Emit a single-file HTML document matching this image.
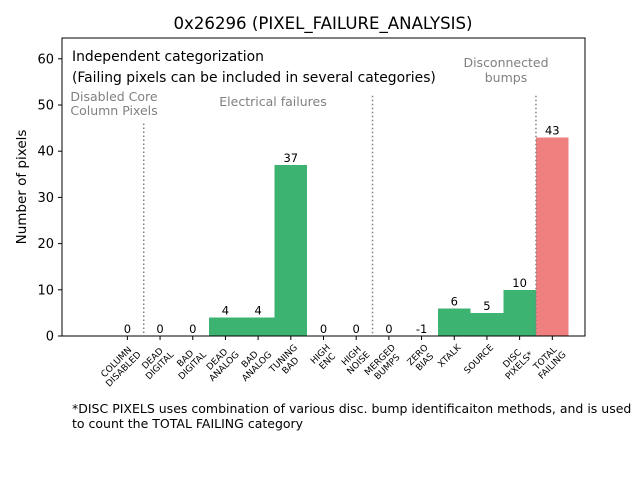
<!DOCTYPE html>
<html><head><meta charset="utf-8"><style>
body{margin:0;background:#fff;}
svg text{font-family:"DejaVu Sans","Liberation Sans",sans-serif;}
</style></head><body>
<svg id="chart" width="640" height="480" xmlns="http://www.w3.org/2000/svg">
<rect width="640" height="480" fill="#fff"/>
<text x="323" y="29" font-size="16.6" text-anchor="middle">0x26296 (PIXEL_FAILURE_ANALYSIS)</text>
<defs><clipPath id="plotclip"><rect x="62" y="38" width="523" height="298"/></clipPath></defs>
<g id="bars" clip-path="url(#plotclip)" shape-rendering="crispEdges"></g>
<g id="marks"></g>
<rect x="62" y="38" width="523" height="298" fill="none" stroke="#000" stroke-width="1"/>
<text transform="translate(26,187) rotate(-90)" font-size="13.5" text-anchor="middle">Number of pixels</text>
<text x="72" y="61" font-size="13.9">Independent categorization</text>
<text x="72" y="82" font-size="13.9">(Failing pixels can be included in several categories)</text>
<text font-size="12.5" fill="#808080" text-anchor="middle"><tspan x="114" y="101">Disabled Core</tspan><tspan x="114" y="115">Column Pixels</tspan></text>
<text x="273" y="106" font-size="12.5" fill="#808080" text-anchor="middle">Electrical failures</text>
<text font-size="12.5" fill="#808080" text-anchor="middle"><tspan x="506" y="67">Disconnected</tspan><tspan x="506" y="82">bumps</tspan></text>
<text font-size="12.5"><tspan x="72" y="413">*DISC PIXELS uses combination of various disc. bump identificaiton methods, and is used</tspan><tspan x="72" y="428">to count the TOTAL FAILING category</tspan></text>
</svg>
<script>
const categories=[["COLUMN","DISABLED"],["DEAD","DIGITAL"],["BAD","DIGITAL"],["DEAD","ANALOG"],["BAD","ANALOG"],["TUNING","BAD"],["HIGH","ENC"],["HIGH","NOISE"],["MERGED","BUMPS"],["ZERO","BIAS"],["XTALK"],["SOURCE"],["DISC","PIXELS*"],["TOTAL","FAILING"]];
const values=[0,0,0,4,4,37,0,0,0,-1,6,5,10,43];
const barColors=["#3cb371","#3cb371","#3cb371","#3cb371","#3cb371","#3cb371","#3cb371","#3cb371","#3cb371","#3cb371","#3cb371","#3cb371","#3cb371","#f08080"];
const yTicks=[0,10,20,30,40,50,60];
const separators=[0.5,7.5,12.5];
const separatorTops=[46,52,52];
const NS="http://www.w3.org/2000/svg";
const X0=62,X1=585,Y0=336,Y1=38,xmin=-2,xmax=14,ymin=0,ymax=64.5;
function xs(v){return X0+(v-xmin)/(xmax-xmin)*(X1-X0);}
function ys(v){return Y0-(v-ymin)/(ymax-ymin)*(Y0-Y1);}
function mk(t,a,p){const e=document.createElementNS(NS,t);for(const k in a)e.setAttribute(k,a[k]);(p||document.getElementById('marks')).appendChild(e);return e;}
const bw=xs(1)-xs(0);
values.forEach((v,i)=>{
  const top=ys(Math.max(v,0)),bot=ys(Math.min(v,0));
  const r=mk('rect',{x:xs(i)-bw/2,y:top,width:bw,height:Math.max(bot-top,0),fill:barColors[i]},document.getElementById('bars'));
  
  
  const t=mk('text',{x:xs(i),y:ys(Math.max(v,0))-3,'font-size':11.5,'text-anchor':'middle'});
  t.textContent=v;
  
  
  mk('line',{x1:xs(i),x2:xs(i),y1:Y0,y2:Y0+4,stroke:'#000'});
  const g=mk('g',{transform:'translate('+(xs(i)+7)+','+(Y0+12)+') rotate(-45)'});
  
  
  const lines=categories[i].map((s,j)=>{const t2=mk('text',{'font-size':9,'text-anchor':'middle',x:0,y:j*10},g);t2.textContent=s;return t2;});
  const W=Math.max(...lines.map(l=>l.getComputedTextLength()));
  lines.forEach(l=>l.setAttribute('x',-W/2));
});
yTicks.forEach(v=>{
  mk('line',{x1:X0-4,x2:X0,y1:ys(v),y2:ys(v),stroke:'#000'});
  const t=mk('text',{x:X0-8,y:ys(v)+4.5,'font-size':13,'text-anchor':'end'});
  t.textContent=v;
  
  
});
separators.forEach((s,i)=>{
  const l=mk('line',{x1:xs(s),x2:xs(s),y1:ys(separatorTops[i]),y2:Y0,stroke:'#808080','stroke-width':1.5,'stroke-dasharray':'1.5,2.5'});
  
  
});
</script>
</body></html>
